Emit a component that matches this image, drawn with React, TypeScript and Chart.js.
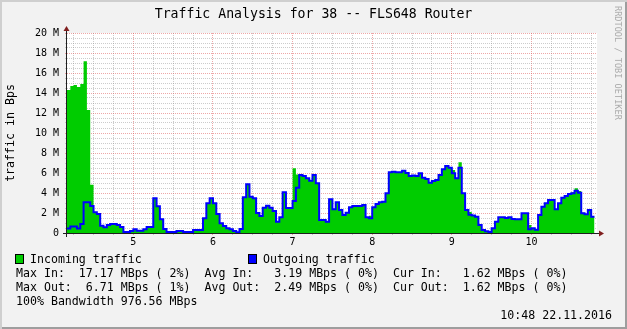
import React, { useEffect, useRef } from 'react';
import { Chart, registerables } from 'chart.js';

Chart.register(...registerables);

// ---- time axis (days) ----
const START_DAY = 4 + 4 / 24;
const END_DAY = 10.8233;
const STEP_DAYS = 1 / 24; // one sample per hour

// ---- series (MBps), one value per hour ----
const incoming = [
  14.3, 14.7, 14.8, 14.6, 14.9, 17.17, 12.3, 4.83, 2.07, 1.9,
  0.73, 0.57, 0.8, 0.9, 0.9, 0.8, 0.6, 0.1, 0.1, 0.2,
  0.37, 0.23, 0.23, 0.37, 0.6, 0.6, 3.47, 2.67, 1.37, 0.4,
  0.1, 0.1, 0.1, 0.2, 0.2, 0.1, 0.1, 0.1, 0.3, 0.3,
  0.3, 1.47, 2.97, 3.47, 2.97, 1.9, 0.97, 0.7, 0.47, 0.37,
  0.2, 0.08, 0.4, 3.57, 4.87, 3.63, 3.47, 2.0, 1.7, 2.53,
  2.73, 2.53, 2.2, 1.13, 1.57, 4.07, 2.5, 2.5, 6.47, 5.85,
  5.8, 5.7, 5.47, 5.23, 5.8, 4.97, 1.3, 1.3, 1.13, 3.37,
  2.37, 3.07, 2.3, 1.8, 2.03, 2.57, 2.7, 2.7, 2.7, 2.8,
  1.57, 1.73, 2.57, 2.9, 3.07, 3.13, 3.97, 6.07, 6.13, 6.07,
  6.07, 6.23, 6.0, 5.7, 5.75, 5.7, 5.97, 5.53, 5.4, 5.03,
  5.2, 5.3, 5.8, 6.37, 6.71, 6.53, 6.3, 5.47, 7.07, 3.97,
  2.3, 2.1, 1.75, 1.63, 0.8, 0.3, 0.17, 0.1, 0.47, 1.13,
  1.57, 1.57, 1.5, 1.57, 1.4, 1.37, 1.37, 1.97, 1.97, 0.8,
  0.47, 0.33, 1.8, 2.63, 2.97, 3.3, 3.3, 2.37, 2.97, 3.53,
  3.7, 3.9, 4.07, 4.47, 4.2, 2.03, 1.87, 2.3, 1.62,
];

const outgoing = [
  0.45, 0.65, 0.65, 0.45, 0.9, 3.07, 3.07, 2.7, 2.07, 1.9,
  0.73, 0.57, 0.8, 0.9, 0.9, 0.8, 0.6, 0.1, 0.1, 0.2,
  0.37, 0.23, 0.23, 0.37, 0.6, 0.6, 3.47, 2.67, 1.37, 0.4,
  0.1, 0.1, 0.1, 0.2, 0.2, 0.1, 0.1, 0.1, 0.3, 0.3,
  0.3, 1.47, 2.97, 3.47, 2.97, 1.9, 0.97, 0.7, 0.47, 0.37,
  0.2, 0.08, 0.4, 3.57, 4.87, 3.63, 3.47, 2.0, 1.7, 2.53,
  2.73, 2.53, 2.2, 1.13, 1.57, 4.07, 2.5, 2.5, 3.2, 4.53,
  5.8, 5.7, 5.47, 5.23, 5.8, 4.97, 1.3, 1.3, 1.13, 3.37,
  2.37, 3.07, 2.3, 1.8, 2.03, 2.57, 2.7, 2.7, 2.7, 2.8,
  1.57, 1.47, 2.57, 2.9, 3.07, 3.13, 3.97, 6.07, 6.13, 6.07,
  6.07, 6.23, 6.0, 5.7, 5.75, 5.7, 5.97, 5.53, 5.4, 5.03,
  5.2, 5.3, 5.8, 6.37, 6.71, 6.53, 5.97, 5.47, 6.53, 3.97,
  2.3, 1.83, 1.75, 1.63, 0.8, 0.3, 0.17, 0.1, 0.47, 1.13,
  1.57, 1.57, 1.5, 1.57, 1.4, 1.37, 1.37, 1.97, 1.97, 0.37,
  0.47, 0.33, 1.8, 2.63, 2.97, 3.3, 3.3, 2.37, 2.97, 3.53,
  3.7, 3.9, 3.97, 4.23, 4.03, 1.97, 1.87, 2.3, 1.62,
];

// ---- axes ----
const yMajorValues = [0, 2, 4, 6, 8, 10, 12, 14, 16, 18, 20];
const yMajorLabels = ['0', '2 M', '4 M', '6 M', '8 M', '10 M', '12 M', '14 M', '16 M', '18 M', '20 M'];
const yMinorStep = 0.5;
const xDayValues = [5, 6, 7, 8, 9, 10];
const xDayLabels = ['5', '6', '7', '8', '9', '10'];
const xMinorStep = 0.25;

// ---- texts ----
const titleText = 'Traffic Analysis for 38 -- FLS648 Router';
const yAxisTitle = 'traffic in Bps';
const legendLabels = ['Incoming traffic', 'Outgoing traffic'];
const legendColors = ['#00CC00', '#0000FF'];
const statLines = [
  'Max In:  17.17 MBps ( 2%)  Avg In:   3.19 MBps ( 0%)  Cur In:   1.62 MBps ( 0%)',
  'Max Out:  6.71 MBps ( 1%)  Avg Out:  2.49 MBps ( 0%)  Cur Out:  1.62 MBps ( 0%)',
  '100% Bandwidth 976.56 MBps',
];
const stampText = '10:48 22.11.2016';
const watermarkText = 'RRDTOOL / TOBI OETIKER';

const MONO = '"DejaVu Sans Mono", monospace';
const GRID = 'rgba(143,143,143,0.45)';
const MGRID = 'rgba(222,79,79,0.5)';
const AXIS = '#1F1F1F';
const ARROW = '#801F1F';

const near = (a: number, b: number) => Math.abs(a - b) < 1e-6;
const isMajorY = (v: number) => yMajorValues.some((m) => near(m, v));
const isMajorX = (v: number) => xDayValues.some((m) => near(m, v));

function toSteps(vals: number[]) {
  const pts = vals.map((v, i) => ({ x: START_DAY + i * STEP_DAYS, y: v }));
  pts.push({ x: START_DAY + vals.length * STEP_DAYS, y: vals[vals.length - 1] });
  return pts;
}

const rrdFrame = {
  id: 'rrdFrame',
  beforeDraw(chart: any) {
    const { ctx, chartArea: a } = chart;
    ctx.save();
    ctx.fillStyle = '#FFFFFF';
    ctx.fillRect(a.left, a.top, a.right - a.left, a.bottom - a.top);
    ctx.restore();
  },
  afterDraw(chart: any) {
    const { ctx, chartArea: a } = chart;
    const x0 = a.left - 0.5;
    const y0 = a.bottom + 0.5;
    ctx.save();
    ctx.strokeStyle = AXIS;
    ctx.lineWidth = 1;
    ctx.beginPath();
    ctx.moveTo(a.left - 4, y0);
    ctx.lineTo(a.right + 4, y0);
    ctx.moveTo(x0, a.bottom + 4);
    ctx.lineTo(x0, a.top - 4);
    ctx.stroke();
    ctx.fillStyle = ARROW;
    ctx.beginPath();
    ctx.moveTo(a.right + 2, y0 - 3);
    ctx.lineTo(a.right + 2, y0 + 3);
    ctx.lineTo(a.right + 7, y0);
    ctx.closePath();
    ctx.fill();
    ctx.beginPath();
    ctx.moveTo(x0 - 3, a.top - 2);
    ctx.lineTo(x0 + 3, a.top - 2);
    ctx.lineTo(x0, a.top - 7);
    ctx.closePath();
    ctx.fill();
    ctx.restore();
  },
};

export default function App() {
  const canvasRef = useRef<HTMLCanvasElement | null>(null);

  useEffect(() => {
    const canvas = canvasRef.current;
    if (!canvas) return;
    const chart = new Chart(canvas, {
      type: 'line',
      data: {
        datasets: [
          {
            label: legendLabels[1],
            data: toSteps(outgoing),
            borderColor: legendColors[1],
            borderWidth: 2,
            stepped: true,
            pointRadius: 0,
            fill: false,
            order: 0,
          },
          {
            label: legendLabels[0],
            data: toSteps(incoming),
            borderColor: 'rgba(0,0,0,0)',
            backgroundColor: legendColors[0],
            borderWidth: 0,
            stepped: true,
            pointRadius: 0,
            fill: 'origin',
            order: 1,
          },
        ],
      },
      options: {
        animation: false,
        responsive: false,
        maintainAspectRatio: false,
        devicePixelRatio: 1,
        events: [],
        layout: { padding: { left: 0, top: 33, right: 30, bottom: 0 } },
        plugins: { legend: { display: false }, tooltip: { enabled: false }, title: { display: false } },
        scales: {
          x: {
            type: 'linear',
            min: START_DAY,
            max: END_DAY,
            afterBuildTicks: (s: any) => {
              const t: any[] = [];
              for (let k = Math.ceil(START_DAY / xMinorStep); k * xMinorStep <= END_DAY; k++) {
                t.push({ value: k * xMinorStep });
              }
              s.ticks = t;
            },
            afterFit: (s: any) => {
              s.height = 96;
            },
            grid: {
              color: (c: any) => (c.tick && isMajorX(c.tick.value) ? MGRID : GRID),
              lineWidth: 1,
              tickLength: 2,
              drawTicks: true,
            },
            border: { display: false, dash: [1, 1] },
            ticks: {
              autoSkip: false,
              maxRotation: 0,
              minRotation: 0,
              padding: 1,
              color: '#000',
              font: { family: MONO, size: 10 },
              callback: (v: any) => {
                const i = xDayValues.findIndex((d) => near(d, Number(v)));
                return i >= 0 ? xDayLabels[i] : '';
              },
            },
          },
          y: {
            type: 'linear',
            min: 0,
            max: 20,
            afterBuildTicks: (s: any) => {
              const t: any[] = [];
              for (let k = 0; k * yMinorStep <= 20; k++) t.push({ value: k * yMinorStep });
              s.ticks = t;
            },
            afterFit: (s: any) => {
              s.width = 67;
            },
            grid: {
              color: (c: any) => (c.tick && isMajorY(c.tick.value) ? MGRID : GRID),
              lineWidth: 1,
              tickLength: 2,
              drawTicks: true,
            },
            border: { display: false, dash: [1, 1] },
            title: {
              display: true,
              text: yAxisTitle,
              color: '#000',
              font: { family: MONO, size: 11.6 },
              padding: { top: 4, bottom: 0 },
            },
            ticks: {
              autoSkip: false,
              padding: 6,
              color: '#000',
              font: { family: MONO, size: 10 },
              callback: (v: any) => {
                const i = yMajorValues.findIndex((m) => near(m, Number(v)));
                return i >= 0 ? yMajorLabels[i] : '';
              },
            },
          },
        },
      },
      plugins: [rrdFrame],
    } as any);
    return () => chart.destroy();
  }, []);

  const textBase: React.CSSProperties = {
    position: 'absolute',
    fontFamily: MONO,
    fontSize: 11.6,
    lineHeight: '14px',
    whiteSpace: 'pre',
    color: '#000',
  };

  return (
    <div
      style={{
        position: 'fixed',
        left: 0,
        top: 0,
        width: 627,
        height: 329,
        background: '#F2F2F2',
        overflow: 'hidden',
      }}
    >
      <canvas
        ref={canvasRef}
        width={627}
        height={329}
        style={{ position: 'absolute', left: 0, top: 0, width: 627, height: 329 }}
      />
      <div
        style={{
          ...textBase,
          left: 0,
          width: 627,
          top: 6,
          fontSize: 13.2,
          lineHeight: '16px',
          textAlign: 'center',
        }}
      >
        {titleText}
      </div>
      <div
        style={{
          position: 'absolute',
          left: 623,
          top: 6,
          transformOrigin: '0 0',
          transform: 'rotate(90deg)',
          fontFamily: MONO,
          fontSize: 8.6,
          lineHeight: '10px',
          whiteSpace: 'pre',
          color: '#ABABAB',
        }}
      >
        {watermarkText}
      </div>
      {/* legend */}
      <div
        style={{
          position: 'absolute',
          left: 15,
          top: 254,
          width: 9,
          height: 10,
          boxSizing: 'border-box',
          border: '1px solid #000',
          background: legendColors[0],
        }}
      />
      <div style={{ ...textBase, left: 30, top: 252 }}>{legendLabels[0]}</div>
      <div
        style={{
          position: 'absolute',
          left: 248,
          top: 254,
          width: 9,
          height: 10,
          boxSizing: 'border-box',
          border: '1px solid #000',
          background: legendColors[1],
        }}
      />
      <div style={{ ...textBase, left: 263, top: 252 }}>{legendLabels[1]}</div>
      <div style={{ ...textBase, left: 16, top: 266 }}>{statLines[0]}</div>
      <div style={{ ...textBase, left: 16, top: 280 }}>{statLines[1]}</div>
      <div style={{ ...textBase, left: 16, top: 294 }}>{statLines[2]}</div>
      <div style={{ ...textBase, right: 627 - 612, top: 308, textAlign: 'right' }}>{stampText}</div>
      <div
        style={{
          position: 'absolute',
          left: 0,
          top: 0,
          width: 627,
          height: 329,
          boxSizing: 'border-box',
          boxShadow: 'inset 2px 2px 0 #CFCFCF, inset -2px -2px 0 #9E9E9E',
          pointerEvents: 'none',
        }}
      />
    </div>
  );
}
